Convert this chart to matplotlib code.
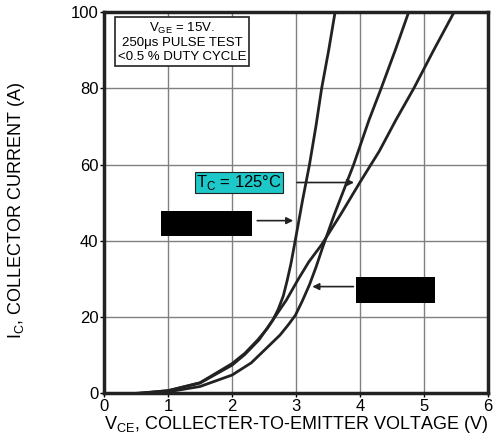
import matplotlib
matplotlib.use('Agg')
import matplotlib.pyplot as plt
from matplotlib.patches import Rectangle

plt.rcParams['font.family'] = ['Liberation Sans', 'DejaVu Sans']
plt.rcParams['mathtext.fontset'] = 'custom'
plt.rcParams['mathtext.rm'] = 'Liberation Sans'

# curves (V, A)
vce_a = [0.55, 1.0, 1.5, 2.0, 2.2, 2.40, 2.55, 2.64, 2.72, 2.80, 2.86, 2.92, 2.97, 3.03, 3.10, 3.21, 3.31, 3.40, 3.51, 3.61]
ic_a = [0, 0.7, 2.8, 7.8, 10.5, 14, 17, 19.3, 22, 25.5, 29.5, 34, 38.5, 44, 50.5, 60, 70, 80, 90, 100]

vce_b = [0.6, 1.0, 1.5, 2.0, 2.3, 2.59, 2.75, 2.88, 2.99, 3.1, 3.21, 3.31, 3.42, 3.6, 3.9, 4.14, 4.33, 4.55, 4.76]
ic_b = [0, 0.4, 1.8, 4.8, 8.0, 12.7, 15.3, 18, 20.5, 24.3, 28.5, 33, 38.5, 47, 60, 71.7, 80, 90, 100]

vce_c = [0.5, 1.0, 1.5, 2.0, 2.2, 2.42, 2.64, 2.85, 3.03, 3.2, 3.40, 3.7, 4.0, 4.3, 4.56, 4.84, 5.15, 5.47]
ic_c = [0, 0.7, 2.7, 7.4, 10.2, 14, 19.3, 24.5, 29.8, 34.5, 39, 47, 55.4, 63.5, 71.7, 80, 90, 100]

x_ticks = [0, 1, 2, 3, 4, 5, 6]
y_ticks = [0, 20, 40, 60, 80, 100]

fig = plt.figure(figsize=(4.93, 4.47), dpi=100)
ax = fig.add_axes([0.211, 0.12, 0.779, 0.853])

ax.set_xlim(0, 6)
ax.set_ylim(0, 100)
ax.set_xticks(x_ticks)
ax.set_yticks(y_ticks)
ax.grid(True, color='#808080', lw=1.0)
ax.set_axisbelow(True)
for s in ax.spines.values():
    s.set_linewidth(2.5)
    s.set_color('#222222')
ax.tick_params(direction='out', length=3, width=1, labelsize=12, pad=1)

for xs, ys in [(vce_a, ic_a), (vce_b, ic_b), (vce_c, ic_c)]:
    ax.plot(xs, ys, color='#222222', lw=2.0, solid_joinstyle='round')

# test-condition box
ax.text(1.22, 92.2, 'V$_{\\rm GE}$ = 15V.\n250\u03bcs PULSE TEST\n<0.5 % DUTY CYCLE',
        ha='center', va='center', fontsize=9.5, linespacing=1.2,
        bbox=dict(boxstyle='square,pad=0.2', fc='white', ec='#222222', lw=1.2))

# 125 C label
ax.annotate('', xy=(3.95, 55.3), xytext=(2.97, 55.3),
            arrowprops=dict(arrowstyle='-|>', color='#222222', lw=1.2, mutation_scale=10))
ax.text(2.11, 55.3, 'T$_{\\rm C}$ = 125\u00b0C', ha='center', va='center', fontsize=12,
        bbox=dict(boxstyle='square,pad=0.05', fc='#1ec8c8', ec='#222222', lw=0.8))

# redacted labels
ax.add_patch(Rectangle((0.89, 41.4), 1.42, 6.5, fc='black', ec='none', zorder=5))
ax.annotate('', xy=(3.0, 45.3), xytext=(2.35, 45.3),
            arrowprops=dict(arrowstyle='-|>', color='#222222', lw=1.2, mutation_scale=10))
ax.add_patch(Rectangle((3.94, 23.8), 1.23, 6.8, fc='black', ec='none', zorder=5))
ax.annotate('', xy=(3.21, 28.0), xytext=(3.94, 28.0),
            arrowprops=dict(arrowstyle='-|>', color='#222222', lw=1.2, mutation_scale=10))

ax.set_xlabel('V$_{\\rm CE}$, COLLECTER-TO-EMITTER VOLTAGE (V)', fontsize=13, labelpad=0)
ax.set_ylabel('I$_{\\rm C}$, COLLECTOR CURRENT (A)', fontsize=13, labelpad=22)
ax.yaxis.set_label_coords(-0.2, 0.48)

fig.savefig('out.png', dpi=100)
